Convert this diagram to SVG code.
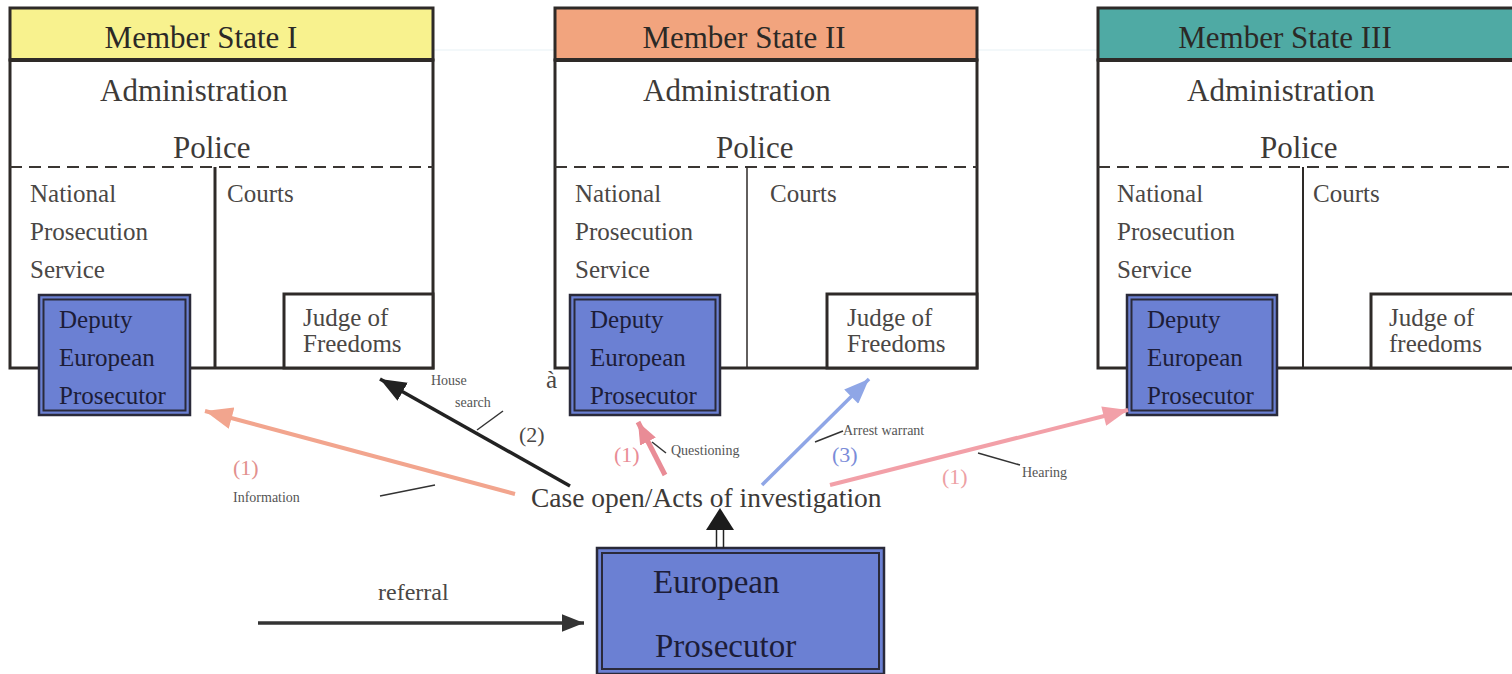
<svg xmlns="http://www.w3.org/2000/svg" width="1512" height="674" viewBox="0 0 1512 674">
<style>
text{font-family:"Liberation Serif","Times New Roman",serif;}
.hdr{stroke:#2e2a28;stroke-width:3;}
.body{fill:#fff;stroke:#2e2a28;stroke-width:3;}
.hline{stroke:#2e2a28;stroke-width:4;}
.dash{stroke:#3a3633;stroke-width:2;stroke-dasharray:12 7;fill:none;}
.div{stroke:#2e2a28;stroke-width:3;}
.judge{fill:#fff;stroke:#2e2a28;stroke-width:3;}
.dep{fill:#6b80d3;stroke:#2a2a3a;stroke-width:2.5;}
.depin{fill:none;stroke:#2a2a3a;stroke-width:2;}
.title{font-size:31px;fill:#2b2926;text-anchor:middle;}
.big{font-size:31px;fill:#3d3a38;}
.mid{font-size:25px;fill:#4a4745;}
.deptx{font-size:25px;fill:#1d1d38;}
.small{font-size:14px;fill:#555;}
.lead{stroke:#333;stroke-width:1.5;fill:none;}
</style>
<defs>
<marker id="hSalmon" viewBox="0 0 20 16" refX="20" refY="8" markerWidth="28" markerHeight="22" markerUnits="userSpaceOnUse" orient="auto"><path d="M0,0 L20,8 L0,16 z" fill="#f2a58e"/></marker>
<marker id="hBlack" viewBox="0 0 20 16" refX="20" refY="8" markerWidth="26" markerHeight="21" markerUnits="userSpaceOnUse" orient="auto"><path d="M0,0 L20,8 L0,16 z" fill="#222"/></marker>
<marker id="hPink" viewBox="0 0 20 16" refX="20" refY="8" markerWidth="22" markerHeight="18" markerUnits="userSpaceOnUse" orient="auto"><path d="M0,0 L20,8 L0,16 z" fill="#e98c96"/></marker>
<marker id="hBlue" viewBox="0 0 20 16" refX="20" refY="8" markerWidth="26" markerHeight="20" markerUnits="userSpaceOnUse" orient="auto"><path d="M0,0 L20,8 L0,16 z" fill="#8fa6e6"/></marker>
<marker id="hRose" viewBox="0 0 20 16" refX="20" refY="8" markerWidth="26" markerHeight="20" markerUnits="userSpaceOnUse" orient="auto"><path d="M0,0 L20,8 L0,16 z" fill="#f2a0a8"/></marker>
<marker id="hDark" viewBox="0 0 20 16" refX="20" refY="8" markerWidth="22" markerHeight="18" markerUnits="userSpaceOnUse" orient="auto"><path d="M0,0 L20,8 L0,16 z" fill="#333"/></marker>
</defs>
<rect width="1512" height="674" fill="#fff"/>
<line x1="433" y1="50" x2="555" y2="50" stroke="#eff6f8" stroke-width="1.5"/>
<line x1="977" y1="50" x2="1098" y2="50" stroke="#eff6f8" stroke-width="1.5"/>

<g id="ms1">
<rect class="body" x="10" y="60" width="423" height="308"/>
<rect class="hdr" x="10" y="8" width="423" height="52" fill="#f8f28e"/>
<line class="hline" x1="10" y1="60" x2="433" y2="60"/>
<text class="title" x="201" y="48">Member State I</text>
<text class="big" x="100" y="101">Administration</text>
<text class="big" x="173" y="158">Police</text>
<line class="dash" x1="10" y1="167" x2="433" y2="167"/>
<line class="div" x1="215" y1="167" x2="215" y2="368"/>
<text class="mid" x="30" y="202">National</text>
<text class="mid" x="30" y="240">Prosecution</text>
<text class="mid" x="30" y="278">Service</text>
<text class="mid" x="227" y="202">Courts</text>
<g id="judge1"><rect class="judge" x="284" y="294" width="149" height="74"/>
<text class="mid" x="303" y="326">Judge of</text><text class="mid" x="303" y="352">Freedoms</text></g>
<g id="dep1"><rect class="dep" x="39" y="295" width="151" height="120"/><rect class="depin" x="43.5" y="299.5" width="142" height="111"/>
<text class="deptx" x="59" y="328">Deputy</text><text class="deptx" x="59" y="366">European</text><text class="deptx" x="59" y="404">Prosecutor</text></g>
</g>

<g id="ms2">
<rect class="body" x="555" y="60" width="422" height="308"/>
<rect class="hdr" x="555" y="8" width="422" height="52" fill="#f2a47e"/>
<line class="hline" x1="555" y1="60" x2="977" y2="60"/>
<text class="title" x="744" y="48">Member State II</text>
<text class="big" x="643" y="101">Administration</text>
<text class="big" x="716" y="158">Police</text>
<line class="dash" x1="555" y1="167" x2="977" y2="167"/>
<line class="div" x1="747" y1="167" x2="747" y2="368" style="stroke-width:1.5"/>
<text class="mid" x="575" y="202">National</text>
<text class="mid" x="575" y="240">Prosecution</text>
<text class="mid" x="575" y="278">Service</text>
<text class="mid" x="770" y="202">Courts</text>
<g id="judge2"><rect class="judge" x="827" y="294" width="150" height="74"/>
<text class="mid" x="847" y="326">Judge of</text><text class="mid" x="847" y="352">Freedoms</text></g>
<g id="dep2"><rect class="dep" x="570" y="295" width="150" height="120"/><rect class="depin" x="574.5" y="299.5" width="141" height="111"/>
<text class="deptx" x="590" y="328">Deputy</text><text class="deptx" x="590" y="366">European</text><text class="deptx" x="590" y="404">Prosecutor</text></g>
<text class="mid" x="546" y="388">à</text>
</g>

<g id="ms3">
<rect class="body" x="1098" y="60" width="424" height="308"/>
<rect class="hdr" x="1098" y="8" width="424" height="52" fill="#4faaa4"/>
<line class="hline" x1="1098" y1="60" x2="1522" y2="60"/>
<text class="title" x="1285" y="48">Member State III</text>
<text class="big" x="1187" y="101">Administration</text>
<text class="big" x="1260" y="158">Police</text>
<line class="dash" x1="1098" y1="167" x2="1522" y2="167"/>
<line class="div" x1="1303" y1="167" x2="1303" y2="368" style="stroke-width:2"/>
<text class="mid" x="1117" y="202">National</text>
<text class="mid" x="1117" y="240">Prosecution</text>
<text class="mid" x="1117" y="278">Service</text>
<text class="mid" x="1313" y="202">Courts</text>
<g id="judge3"><rect class="judge" x="1371" y="294" width="151" height="74"/>
<text class="mid" x="1389" y="326">Judge of</text><text class="mid" x="1389" y="352">freedoms</text></g>
<g id="dep3"><rect class="dep" x="1127" y="295" width="150" height="120"/><rect class="depin" x="1131.5" y="299.5" width="141" height="111"/>
<text class="deptx" x="1147" y="328">Deputy</text><text class="deptx" x="1147" y="366">European</text><text class="deptx" x="1147" y="404">Prosecutor</text></g>
</g>

<g id="case">
<text x="531" y="507" style="font-size:27.5px;fill:#3d3a38">Case open/Acts of investigation</text>
</g>

<g id="ep">
<rect x="597" y="548" width="287" height="126" fill="#6b80d3" stroke="#2a2a3a" stroke-width="2.5"/>
<rect x="602" y="553" width="277" height="116" fill="none" stroke="#2a2a3a" stroke-width="2"/>
<text x="653" y="593" style="font-size:33px;fill:#1d1d38">European</text>
<text x="655" y="657" style="font-size:33px;fill:#1d1d38">Prosecutor</text>
</g>

<g id="connectors">
<line x1="515" y1="494" x2="205" y2="411" stroke="#f2a58e" stroke-width="4" marker-end="url(#hSalmon)"/>
<line x1="570" y1="486" x2="380" y2="379" stroke="#222" stroke-width="3.5" marker-end="url(#hBlack)"/>
<line x1="665" y1="475" x2="638" y2="422" stroke="#e98c96" stroke-width="5" marker-end="url(#hPink)"/>
<line x1="762" y1="485" x2="869" y2="379" stroke="#8fa6e6" stroke-width="3.5" marker-end="url(#hBlue)"/>
<line x1="830" y1="485" x2="1128" y2="410" stroke="#f2a0a8" stroke-width="4" marker-end="url(#hRose)"/>
<line x1="258" y1="623" x2="584" y2="623" stroke="#333" stroke-width="3.5" marker-end="url(#hDark)"/>
<line x1="716.5" y1="548" x2="716.5" y2="528" stroke="#222" stroke-width="1.5"/>
<line x1="723.5" y1="548" x2="723.5" y2="528" stroke="#222" stroke-width="1.5"/>
<path d="M706,530 L734,530 L720,508 z" fill="#1c1c1c"/>
<line class="lead" x1="380" y1="496" x2="435" y2="485"/>
<line class="lead" x1="477" y1="430" x2="503" y2="411"/>
<line class="lead" x1="652" y1="442" x2="666" y2="453"/>
<line class="lead" x1="815" y1="442" x2="843" y2="431"/>
<line class="lead" x1="978" y1="453" x2="1020" y2="465"/>
<text x="233" y="475" style="font-size:22px;fill:#e2908e">(1)</text>
<text class="small" x="233" y="502">Information</text>
<text class="small" x="431" y="385">House</text>
<text class="small" x="455" y="407">search</text>
<text x="519" y="442" style="font-size:22px;fill:#4a4745">(2)</text>
<text x="614" y="462" style="font-size:22px;fill:#e98c96">(1)</text>
<text class="small" x="671" y="455">Questioning</text>
<text x="832" y="462" style="font-size:22px;fill:#7a8cd8">(3)</text>
<text class="small" x="843" y="435">Arrest warrant</text>
<text x="942" y="484" style="font-size:22px;fill:#eda0a4">(1)</text>
<text class="small" x="1022" y="477">Hearing</text>
<text x="378" y="600" style="font-size:24px;fill:#4a4745">referral</text>
</g>
</svg>
